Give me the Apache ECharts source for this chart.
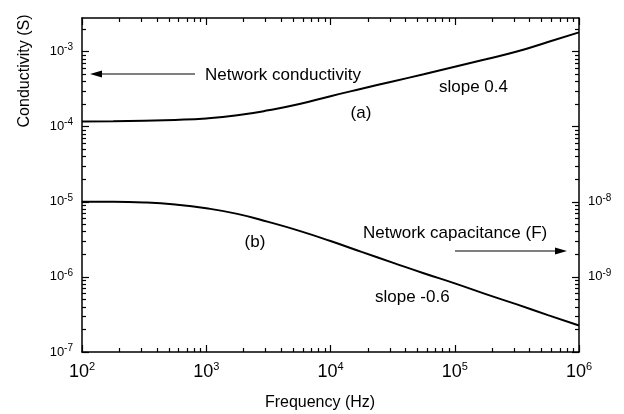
<!DOCTYPE html>
<html>
<head>
<meta charset="utf-8">
<script src="https://cdn.jsdelivr.net/npm/echarts@6/dist/echarts.min.js"></script>
<style>
  html, body { margin: 0; padding: 0; background: #fff; }
  #chart { width: 624px; height: 414px; }
</style>
</head>
<body>
<div id="chart"></div>
<script>
(function () {

  'use strict';

  // frequency (Hz), quarter-decade steps
  var frequency = [100, 178, 316, 562, 1000, 1778, 3162, 5623, 10000, 17783, 31623, 56234,
    100000, 177828, 316228, 562341, 1000000];
  // (a) network conductivity (S)
  var conductivity = [1.17e-4, 1.18e-4, 1.2e-4, 1.23e-4, 1.29e-4, 1.42e-4, 1.65e-4, 2.0e-4,
    2.55e-4, 3.2e-4, 4.0e-4, 5.0e-4, 6.3e-4, 7.9e-4, 1.0e-3, 1.34e-3, 1.8e-3];
  // (b) network capacitance (F)
  var capacitance = [1.0e-8, 1.0e-8, 9.8e-9, 9.2e-9, 8.2e-9, 6.9e-9, 5.4e-9, 4.1e-9,
    3.0e-9, 2.15e-9, 1.55e-9, 1.12e-9, 8.2e-10, 5.9e-10, 4.3e-10, 3.1e-10, 2.25e-10];

  // tick labels (exponents of ten)
  var xTickExps = [2, 3, 4, 5, 6];
  var leftTickExps = [-7, -6, -5, -4, -3];
  var rightTickExps = [-9, -8];

  var xMin = 100, xMax = 1e6;
  var yMin = 1e-7, yMax = 2.8e-3;
  var rMin = 1e-10, rMax = 2.8e-6;

  function pow10(list) {
    return list.map(function (e) { return Math.pow(10, e); });
  }
  function rangeExps(a, b) {
    var out = [];
    for (var e = a; e <= b; e++) out.push(e);
    return out;
  }
  function minorTicks(lo, hi) {
    var out = [];
    for (var e = lo; e < hi; e++) {
      for (var k = 2; k <= 9; k++) out.push(k * Math.pow(10, e));
    }
    return out;
  }
  function expLabel(v) {
    var e = Math.round(Math.log(v) / Math.LN10);
    return '{b|10}{s|' + e + '}';
  }

  var font = 'Liberation Sans, Arial, Helvetica, sans-serif';
  var black = '#000';

  var xRich = {
    b: { fontSize: 18, fontFamily: font, color: black },
    s: { fontSize: 11, fontFamily: font, color: black, padding: [0, 0, 11, 0] }
  };
  var yRich = {
    b: { fontSize: 13, fontFamily: font, color: black },
    s: { fontSize: 10, fontFamily: font, color: black, padding: [0, 0, 8, 0] }
  };

  function xAxisOf(pos, major) {
    return {
      type: 'log', logBase: 10, min: xMin, max: xMax, position: pos,
      axisLine: { show: major, onZero: false, lineStyle: { color: black, width: 1.5 } },
      axisTick: {
        inside: true, length: major ? 7 : 4,
        customValues: major ? pow10(xTickExps) : minorTicks(2, 6),
        lineStyle: { color: black, width: 1.2 }
      },
      axisLabel: {
        show: major && pos === 'bottom', customValues: pow10(xTickExps),
        formatter: expLabel, rich: xRich, margin: 9
      },
      splitLine: { show: false }
    };
  }

  function yAxisOf(pos, lo, hi, major, labelExps, lowDec, highDec) {
    return {
      type: 'log', logBase: 10, min: lo, max: hi, position: pos,
      axisLine: { show: major, onZero: false, lineStyle: { color: black, width: 1.5 } },
      axisTick: {
        inside: true, length: major ? 7 : 4,
        customValues: major ? pow10(rangeExps(lowDec, highDec))
          : minorTicks(lowDec, highDec + 1).filter(function (v) { return v <= hi; }),
        lineStyle: { color: black, width: 1.2 }
      },
      axisLabel: {
        show: major && labelExps.length > 0, customValues: pow10(labelExps),
        formatter: expLabel, rich: yRich, margin: 9
      },
      splitLine: { show: false }
    };
  }

  var xAxes = [xAxisOf('bottom', true), xAxisOf('bottom', false), xAxisOf('top', true), xAxisOf('top', false)];
  var yAxes = [
    yAxisOf('left', yMin, yMax, true, leftTickExps, -7, -3),
    yAxisOf('right', rMin, rMax, true, rightTickExps, -10, -6),
    yAxisOf('left', yMin, yMax, false, [], -7, -3),
    yAxisOf('right', rMin, rMax, false, [], -10, -6)
  ];

  function pairs(xs, ys) {
    return xs.map(function (x, i) { return [x, ys[i]]; });
  }

  var chart = echarts.init(document.getElementById('chart'));

  var textStyle = { fill: black, fontSize: 17, fontFamily: font };

  var option = {
    animation: false,
    backgroundColor: '#fff',
    grid: { left: 82, right: 45, top: 18, bottom: 62, containLabel: false },
    xAxis: xAxes,
    yAxis: yAxes,
    series: [
      {
        name: 'Network conductivity', type: 'line', xAxisIndex: 0, yAxisIndex: 0,
        data: pairs(frequency, conductivity), smooth: true, showSymbol: false,
        lineStyle: { color: black, width: 2 }
      },
      {
        name: 'Network capacitance', type: 'line', xAxisIndex: 0, yAxisIndex: 1,
        data: pairs(frequency, capacitance), smooth: true, showSymbol: false,
        lineStyle: { color: black, width: 2 }
      }
    ],
    graphic: [
      { type: 'text', x: 320, y: 403, style: { text: 'Frequency (Hz)', fill: black, fontSize: 16, fontFamily: font, align: 'center', verticalAlign: 'middle' } },
      { type: 'text', x: 25, y: 71, rotation: Math.PI / 2, style: { text: 'Conductivity (S)', fill: black, fontSize: 16, fontFamily: font, align: 'center', verticalAlign: 'middle' } },
      { type: 'text', x: 205, y: 75, style: Object.assign({ text: 'Network conductivity', verticalAlign: 'middle' }, textStyle) },
      { type: 'line', shape: { x1: 99, y1: 74, x2: 195, y2: 74 }, style: { stroke: black, lineWidth: 1.2 } },
      { type: 'polygon', shape: { points: [[90, 74], [102, 70.5], [102, 77.5]] }, style: { fill: black } },
      { type: 'text', x: 361, y: 113, style: Object.assign({ text: '(a)', align: 'center', verticalAlign: 'middle' }, textStyle) },
      { type: 'text', x: 439, y: 87, style: Object.assign({ text: 'slope 0.4', verticalAlign: 'middle' }, textStyle) },
      { type: 'text', x: 255, y: 242, style: Object.assign({ text: '(b)', align: 'center', verticalAlign: 'middle' }, textStyle) },
      { type: 'text', x: 363, y: 233, style: Object.assign({ text: 'Network capacitance (F)', verticalAlign: 'middle' }, textStyle) },
      { type: 'line', shape: { x1: 455, y1: 251, x2: 556, y2: 251 }, style: { stroke: black, lineWidth: 1.2 } },
      { type: 'polygon', shape: { points: [[567, 251], [555, 247.5], [555, 254.5]] }, style: { fill: black } },
      { type: 'text', x: 375, y: 297, style: Object.assign({ text: 'slope -0.6', verticalAlign: 'middle' }, textStyle) }
    ]
  };

  chart.setOption(option);

})();
</script>
</body>
</html>
